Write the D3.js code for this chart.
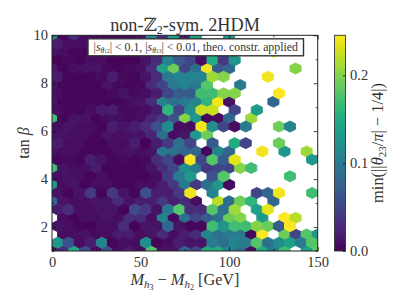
<!DOCTYPE html>
<html>
<head>
<meta charset="utf-8">
<script src="https://cdn.jsdelivr.net/npm/d3@7"></script>
<style>
  html, body { margin: 0; padding: 0; background: #fff; }
  svg { display: block; }
  text { font-family: "Liberation Serif", "DejaVu Serif", serif; fill: #333; }
  .axis path { display: none; }
  .axis line { stroke: #111; stroke-width: 0.8; }
  .axis text { font-size: 14.5px; }
</style>
</head>
<body>
<div id="viz"></div>
<script>
// hexbin cells, min value per cell, null = empty or hidden
// rows of the outer lattice, top row first (tan beta = 10 down to 1)
var latticeA = [
  [.13,.003,.03,.006,.006,.003,.003,.006,.012,.12,.03,.14,.02,.14,null,null,.13,null,null,null,null,null,null,null,null],
  [.012,.008,.003,.003,.003,.003,.003,.006,.008,.02,.04,.04,.04,.008,.15,.04,.13,null,null,null,.245,null,null,null,null],
  [.016,.003,.008,.012,.012,.006,.003,.006,.008,.03,.14,.19,.05,.09,.24,.07,.08,null,null,null,null,null,.2,null,null],
  [.012,.003,.003,.003,.003,.012,.006,.003,.006,.03,.05,.10,.11,.10,.18,null,null,.1,null,null,null,null,null,null,null],
  [.012,.003,.003,.003,.003,.003,.003,.008,.012,.03,.11,.09,.10,.11,.16,.24,.01,null,null,null,.08,null,null,null,null],
  [.17,.003,.012,.012,.003,.008,.008,.006,.008,.025,.04,.06,.2,.13,.005,.008,.08,null,.21,null,null,null,null,null,null],
  [.012,.012,.008,.008,.003,.012,.008,.012,.012,.025,.09,.008,.012,.13,.19,null,null,null,null,null,null,null,null,null,null],
  [.012,.008,.008,.003,.003,.003,.008,.012,.008,.012,.10,.09,.08,.08,.005,.11,.08,null,null,.24,null,.13,null,.21,null],
  [.17,.012,.008,.008,.02,.003,.003,.003,.003,.012,.03,.05,.12,.1,.04,.05,.05,.2,.17,null,null,null,null,null,null],
  [.13,.008,.012,.003,.008,.008,.003,.003,.008,.008,.02,.04,.1,.04,.09,.13,.005,null,null,null,null,null,null,null,null],
  [.08,.012,.008,.008,.012,.012,.03,.012,.02,.02,.04,.02,.03,.008,null,.22,.09,.19,.16,null,.08,null,null,null,null],
  [null,.008,.003,.008,.008,.012,.008,.03,.03,.008,.11,.005,.09,.05,.07,.09,.19,.2,null,.13,null,.245,.22,null,null],
  [null,.008,.008,.012,.006,.008,.02,.02,.008,.012,.03,.008,.02,.03,.11,.09,.1,.1,.005,.245,null,.19,.05,.18,.13],
  [.008,.03,.15,.06,.008,.06,.008,.02,.008,.18,.012,.012,.08,.05,.15,.15,.11,.09,.008,.15,.1,.17,null,.14,.18]
];
// rows of the inner lattice, offset half a cell, top row first
var latticeB = [
  [.02,.008,.008,.008,null,null,null,null,null,null,null,null,null,null,null,null,null,null,null,null,null,null,null,null],
  [.003,.006,.003,.008,.008,.003,.003,.003,.012,.03,.11,.07,.05,.008,.15,.04,.13,null,null,null,null,null,null,null],
  [.02,.003,.003,.003,.006,.02,.006,.003,.012,.03,.1,.11,.11,.11,.21,.2,null,null,null,.24,null,null,null,null],
  [.008,.003,.003,.003,.003,.006,.012,.006,.008,.02,.05,.07,.07,.17,.17,.2,.2,null,null,null,.245,null,null,null],
  [.008,.003,.003,.008,.016,.02,.006,.006,.008,.02,.16,.05,.12,.225,.225,null,.05,null,.135,null,null,null,null,null],
  [.008,.012,.008,.008,.003,.02,.012,.02,.03,.06,.12,.008,.008,.24,.12,.05,.008,.1,null,null,.19,.11,null,null],
  [.02,.008,.008,.003,.003,.008,.008,.02,.002,.02,.04,.09,.05,null,.07,null,.15,.05,null,null,.19,null,null,null],
  [.003,.006,.003,.02,.012,.003,.006,.003,.006,.03,.05,.008,.245,.05,.18,.07,.235,null,null,null,null,null,null,.13],
  [.008,.012,.008,.003,.008,.003,.003,.003,.003,.008,.04,.1,.13,null,.06,.18,null,null,null,null,null,.17,null,null],
  [.012,.002,.012,.04,.003,.04,.012,.003,.06,.02,.02,.04,.24,null,.11,null,null,null,.05,.08,.24,null,null,.17],
  [.02,.03,.008,.008,.012,.012,.003,.055,.04,.012,.1,.18,.03,.03,.18,.09,.21,null,.14,.235,null,null,null,null],
  [.012,.008,.003,.002,.008,.008,.03,.002,.012,.012,.08,.012,.004,.004,.17,.13,.17,.17,.2,.19,.07,.245,null,null],
  [.13,.06,.008,.02,.11,.003,.008,.008,.12,.003,.008,.02,.012,.012,.1,.09,.11,.1,.18,.09,.12,.14,.1,.18]
];

var xTicks = [0, 50, 100, 150];
var xMinorTicks = [25, 75, 125];
var yTicks = [2, 4, 6, 8, 10];
var yMinorTicks = [1, 3, 5, 7, 9];
var cbarTicks = [0, 0.1, 0.2];

var width = 407;
var height = 305;
var margin = {top: 35.3, right: 89.3, bottom: 54, left: 52};
var gridX = 24;   // hexbin gridsize
var gridY = 13;
var vmax = 0.2455;

var x = d3.scaleLinear().domain([0, 150]).range([margin.left, width - margin.right]);
var y = d3.scaleLinear().domain([1, 10]).range([height - margin.bottom, margin.top]);
var color = d3.scaleSequential(d3.interpolateViridis).domain([0, vmax]);

var svg = d3.select('#viz')
  .append('svg')
  .attr('width', width)
  .attr('height', height);

svg.append('clipPath')
  .attr('id', 'plotClip')
  .append('rect')
  .attr('x', x(0))
  .attr('y', y(10))
  .attr('width', x(150) - x(0))
  .attr('height', y(1) - y(10));

// cell size in data units, same layout as matplotlib hexbin
var sx = 150 / gridX;
var sy = 9 / gridY;

function hexPath(cx, cy) {
  var pts = [[.5, -.5], [.5, .5], [0, 1], [-.5, .5], [-.5, -.5], [0, -1]];
  return 'M' + pts.map(function(p) {
    return x(cx + p[0] * sx) + ',' + y(cy + p[1] * sy / 3);
  }).join('L') + 'Z';
}

var cells = [];
latticeA.forEach(function(row, r) {
  row.forEach(function(v, i) {
    if (v !== null) cells.push({cx: i * sx, cy: 1 + (gridY - r) * sy, v: v});
  });
});
latticeB.forEach(function(row, r) {
  row.forEach(function(v, i) {
    if (v !== null) cells.push({cx: (i + .5) * sx, cy: 1 + (gridY - 1 - r + .5) * sy, v: v});
  });
});

svg.append('g')
  .attr('clip-path', 'url(#plotClip)')
  .selectAll('path')
  .data(cells)
  .join('path')
  .attr('d', d => hexPath(d.cx, d.cy))
  .attr('fill', d => color(d.v))
  .attr('stroke', d => color(d.v))
  .attr('stroke-width', 0.9);

// axes, all ticks point inward
function addAxis(axis, tx, ty, labels) {
  var g = svg.append('g')
    .attr('class', 'axis')
    .attr('transform', 'translate(' + tx + ',' + ty + ')')
    .call(axis.tickSizeOuter(0));
  if (!labels) g.selectAll('text').remove();
  return g;
}
var xb = y(1), yl = x(0), xt = y(10), yr = x(150);
addAxis(d3.axisBottom(x).tickValues(xTicks).tickSizeInner(-4).tickPadding(6).tickFormat(d3.format('d')), 0, xb, true);
addAxis(d3.axisBottom(x).tickValues(xMinorTicks).tickSizeInner(-2), 0, xb, false);
addAxis(d3.axisTop(x).tickValues(xTicks).tickSizeInner(-4), 0, xt, false);
addAxis(d3.axisTop(x).tickValues(xMinorTicks).tickSizeInner(-2), 0, xt, false);
addAxis(d3.axisLeft(y).tickValues(yTicks).tickSizeInner(-4).tickPadding(4).tickFormat(d3.format('d')), yl, 0, true);
addAxis(d3.axisLeft(y).tickValues(yMinorTicks).tickSizeInner(-2), yl, 0, false);
addAxis(d3.axisRight(y).tickValues(yTicks).tickSizeInner(-4), yr, 0, false);
addAxis(d3.axisRight(y).tickValues(yMinorTicks).tickSizeInner(-2), yr, 0, false);

svg.append('rect')
  .attr('x', x(0))
  .attr('y', y(10))
  .attr('width', x(150) - x(0))
  .attr('height', y(1) - y(10))
  .attr('fill', 'none')
  .attr('stroke', '#222')
  .attr('stroke-width', 1);

// title and axis labels
svg.append('text')
  .attr('x', 185)
  .attr('y', 31)
  .attr('text-anchor', 'middle')
  .style('font-size', '18.2px')
  .html('non-<tspan style="font-family:\'DejaVu Serif\'">ℤ</tspan><tspan dy="3" font-size="12">2</tspan><tspan dy="-3">-sym. 2HDM</tspan>');

svg.append('text')
  .attr('x', 185)
  .attr('y', 285)
  .attr('text-anchor', 'middle')
  .style('font-size', '16.3px')
  .html('<tspan font-style="italic">M</tspan><tspan dy="3" font-size="11" font-style="italic">h</tspan><tspan dy="1.5" font-size="8">3</tspan><tspan dy="-4.5"> − </tspan><tspan font-style="italic">M</tspan><tspan dy="3" font-size="11" font-style="italic">h</tspan><tspan dy="1.5" font-size="8">2</tspan><tspan dy="-4.5"> [GeV]</tspan>');

svg.append('text')
  .attr('transform', 'translate(29,143) rotate(-90)')
  .attr('text-anchor', 'middle')
  .style('font-size', '16px')
  .html('tan <tspan font-style="italic">β</tspan>');

// legend box
var legendBox = svg.append('g');
legendBox.append('rect')
  .attr('x', 88)
  .attr('y', 38.8)
  .attr('width', 215.5)
  .attr('height', 17)
  .attr('fill', '#fff')
  .attr('stroke', '#333')
  .attr('stroke-width', 1.4);
legendBox.append('text')
  .attr('x', 195.7)
  .attr('y', 51)
  .attr('text-anchor', 'middle')
  .style('font-size', '11.8px')
  .html('|<tspan font-style="italic">s</tspan><tspan dy="2" font-size="7.5" font-style="italic">θ</tspan><tspan font-size="5.5">12</tspan><tspan dy="-2">| &lt; 0.1, |</tspan><tspan font-style="italic">s</tspan><tspan dy="2" font-size="7.5" font-style="italic">θ</tspan><tspan font-size="5.5">13</tspan><tspan dy="-2">| &lt; 0.01, theo. constr. applied</tspan>');

// colorbar
var cbarY = d3.scaleLinear().domain([0, vmax]).range([y(1), y(10)]);
var defs = svg.append('defs');
var grad = defs.append('linearGradient')
  .attr('id', 'cbarGrad')
  .attr('x1', 0).attr('x2', 0).attr('y1', 1).attr('y2', 0);
grad.selectAll('stop')
  .data(d3.range(0, 1.001, 0.05))
  .join('stop')
  .attr('offset', d => d)
  .attr('stop-color', d => d3.interpolateViridis(d));

var cbarX = 334.5, cbarW = 11;
svg.append('rect')
  .attr('x', cbarX)
  .attr('y', cbarY(vmax))
  .attr('width', cbarW)
  .attr('height', cbarY(0) - cbarY(vmax))
  .attr('fill', 'url(#cbarGrad)')
  .attr('stroke', '#333')
  .attr('stroke-width', 0.9);

svg.append('g')
  .attr('class', 'axis')
  .attr('transform', 'translate(' + (cbarX + cbarW) + ',0)')
  .call(d3.axisRight(cbarY).tickValues(cbarTicks).tickSizeInner(-2.5).tickSizeOuter(0).tickPadding(4.5).tickFormat(d3.format('.1f')));

svg.append('text')
  .attr('transform', 'translate(383,143) rotate(-90)')
  .attr('text-anchor', 'middle')
  .style('font-size', '16.4px')
  .html('min(||<tspan font-style="italic">θ</tspan><tspan dy="3" font-size="11">23</tspan><tspan dy="-3">/</tspan><tspan font-style="italic">π</tspan>| − 1/4|)');
</script>
</body>
</html>
